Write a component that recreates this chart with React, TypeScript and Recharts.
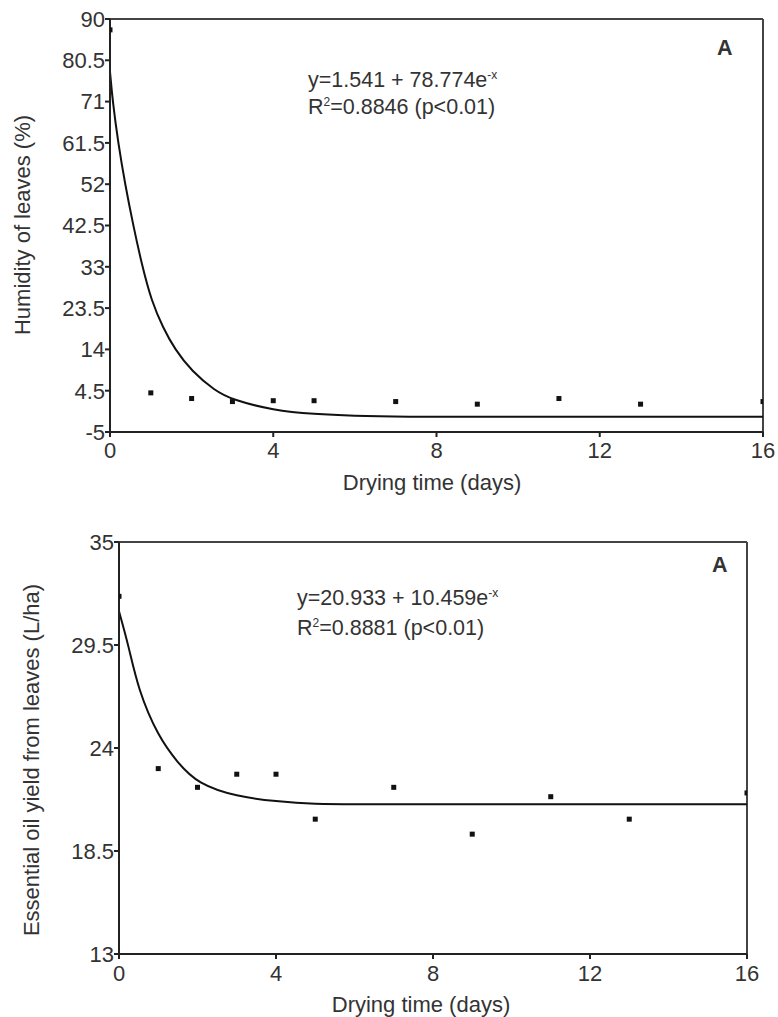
import { ComposedChart, Line, Scatter, XAxis, YAxis, ReferenceLine } from 'recharts';

// measured points (drying days)
const dryingDays = [0, 1, 2, 3, 4, 5, 7, 9, 11, 13, 16];
const humidityValues = [87.5, 4.0, 2.7, 2.0, 2.2, 2.2, 2.0, 1.4, 2.7, 1.4, 2.0];
const oilYieldValues = [32.1, 22.9, 21.9, 22.6, 22.6, 20.2, 21.9, 19.4, 21.4, 20.2, 21.6];

// fitted curves
const humidityFitDays = [0, 0.066, 0.2, 0.37, 0.57, 0.78, 1.02, 1.3, 1.59, 2, 2.57, 3, 4, 5, 6, 7, 10, 16];
const humidityFitValues = [77.9, 71, 61.5, 52, 42.5, 33.5, 25, 19, 14, 9, 4.5, 2.4, 0, -0.9, -1.3, -1.5, -1.5, -1.5];
const oilFitDays = [0, 0.24, 0.49, 1, 1.5, 2, 3, 4, 5, 6, 10, 16];
const oilFitValues = [31.3, 29.5, 27.1, 24.6, 23.2, 22.1, 21.4, 21.15, 21.0, 21.0, 21.0, 21.0];

const dayTicks = [0, 4, 8, 12, 16];
const humidityTicks = [-5, 4.5, 14, 23.5, 33, 42.5, 52, 61.5, 71, 80.5, 90];
const oilTicks = [13, 18.5, 24, 29.5, 35];

const FONT = '"Liberation Sans", Arial, sans-serif';
const TEXT = '#333';
const AXIS = '#222';

const Square = (props: any) => (
  <rect x={props.cx - 2.5} y={props.cy - 2.5} width={5} height={5} fill="#111" />
);

const zip = (xs: number[], ys: number[]) => xs.map((x, i) => ({ x, y: ys[i] }));

interface PanelProps {
  height: number;
  left: number;
  top: number;
  bottom: number;
  right: number;
  domain: [number, number];
  ticks: number[];
  points: { x: number; y: number }[];
  fit: { x: number; y: number }[];
  xTickMargin: number;
}

function Panel({ height, left, top, bottom, right, domain, ticks, points, fit, xTickMargin }: PanelProps) {
  const tickStyle = { fill: TEXT, fontSize: 22, fontFamily: FONT };
  return (
    <ComposedChart width={778} height={height} margin={{ top, right, left: 0, bottom: 0 }}>
      <XAxis
        type="number"
        dataKey="x"
        domain={[0, 16]}
        ticks={dayTicks}
        interval={0}
        allowDataOverflow
        height={height - bottom}
        tick={tickStyle}
        tickSize={5}
        tickMargin={xTickMargin}
        axisLine={{ stroke: AXIS, strokeWidth: 2 }}
        tickLine={{ stroke: AXIS, strokeWidth: 2 }}
      />
      <YAxis
        type="number"
        domain={domain}
        ticks={ticks}
        interval={0}
        allowDataOverflow
        width={left}
        tick={tickStyle}
        tickSize={5}
        tickMargin={0}
        axisLine={{ stroke: AXIS, strokeWidth: 2 }}
        tickLine={{ stroke: AXIS, strokeWidth: 2 }}
      />
      <ReferenceLine y={domain[1]} stroke="#444" strokeWidth={2} />
      <ReferenceLine x={16} stroke="#444" strokeWidth={2} />
      <Line
        data={fit}
        dataKey="y"
        type="basis"
        dot={false}
        stroke="#111"
        strokeWidth={2}
        isAnimationActive={false}
      />
      <Scatter data={points} dataKey="y" shape={<Square />} isAnimationActive={false} />
    </ComposedChart>
  );
}

const textBase: React.CSSProperties = {
  position: 'absolute',
  fontFamily: FONT,
  fontSize: 21.5,
  lineHeight: '22px',
  color: TEXT,
  whiteSpace: 'nowrap',
};

const sup: React.CSSProperties = { fontSize: 12, verticalAlign: 'top', lineHeight: '12px' };

export default function App() {
  return (
    <div style={{ position: 'absolute', left: 0, top: 0, width: 778, height: 1017, background: '#fff' }}>
      <div style={{ position: 'absolute', left: 0, top: 0 }}>
        <Panel
          height={500}
          left={110}
          top={19}
          bottom={432}
          right={15}
          domain={[-5, 90]}
          ticks={humidityTicks}
          points={zip(dryingDays, humidityValues)}
          fit={zip(humidityFitDays, humidityFitValues)}
          xTickMargin={5}
        />
      </div>
      <div style={{ position: 'absolute', left: 0, top: 500 }}>
        <Panel
          height={517}
          left={119}
          top={42}
          bottom={454}
          right={31}
          domain={[13, 35]}
          ticks={oilTicks}
          points={zip(dryingDays, oilYieldValues)}
          fit={zip(oilFitDays, oilFitValues)}
          xTickMargin={6}
        />
      </div>

      {/* top panel annotations */}
      <div style={{ ...textBase, left: 308, top: 69 }}>
        y=1.541 + 78.774e<span style={sup}>-x</span>
      </div>
      <div style={{ ...textBase, left: 308, top: 96 }}>
        R<span style={sup}>2</span>=0.8846 (p&lt;0.01)
      </div>
      <div style={{ ...textBase, left: 717, top: 37, fontWeight: 'bold' }}>A</div>
      <div style={{ ...textBase, fontSize: 22, left: 432, top: 472, transform: 'translateX(-50%)' }}>
        Drying time (days)
      </div>
      <div
        style={{
          ...textBase,
          fontSize: 22,
          left: 23,
          top: 225,
          transform: 'translate(-50%, -50%) rotate(-90deg)',
        }}
      >
        Humidity of leaves (%)
      </div>

      {/* bottom panel annotations */}
      <div style={{ ...textBase, left: 297, top: 587 }}>
        y=20.933 + 10.459e<span style={sup}>-x</span>
      </div>
      <div style={{ ...textBase, left: 297, top: 617 }}>
        R<span style={sup}>2</span>=0.8881 (p&lt;0.01)
      </div>
      <div style={{ ...textBase, left: 712, top: 554, fontWeight: 'bold' }}>A</div>
      <div style={{ ...textBase, fontSize: 22, left: 421, top: 994, transform: 'translateX(-50%)' }}>
        Drying time (days)
      </div>
      <div
        style={{
          ...textBase,
          fontSize: 22,
          left: 32,
          top: 760,
          transform: 'translate(-50%, -50%) rotate(-90deg)',
        }}
      >
        Essential oil yield from leaves (L/ha)
      </div>
    </div>
  );
}
